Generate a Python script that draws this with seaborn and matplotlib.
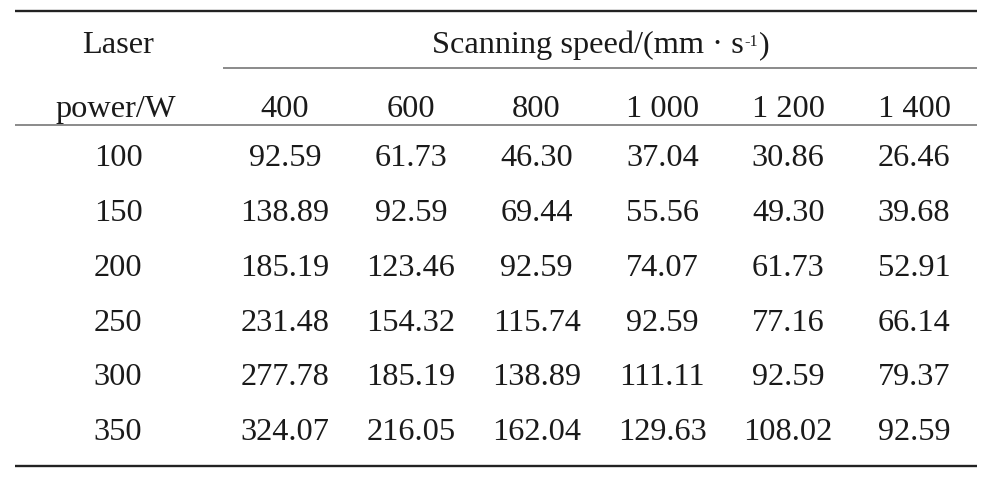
import seaborn as sns
import numpy as np
import matplotlib.pyplot as plt
import pandas as pd
from matplotlib.colors import ListedColormap

# table data: linear energy density, rows = laser power, cols = scanning speed
powers = [100, 150, 200, 250, 300, 350]
speeds = ["400", "600", "800", "1 000", "1 200", "1 400"]
v400 = [92.59, 138.89, 185.19, 231.48, 277.78, 324.07]
v600 = [61.73, 92.59, 123.46, 154.32, 185.19, 216.05]
v800 = [46.30, 69.44, 92.59, 115.74, 138.89, 162.04]
v1000 = [37.04, 55.56, 74.07, 92.59, 111.11, 129.63]
v1200 = [30.86, 49.30, 61.73, 77.16, 92.59, 108.02]
v1400 = [26.46, 39.68, 52.91, 66.14, 79.37, 92.59]

df = pd.DataFrame({s: v for s, v in zip(speeds, [v400, v600, v800, v1000, v1200, v1400])},
                  index=powers)

sns.set_theme(style="white")
plt.rcParams['font.family'] = ['Liberation Serif', 'DejaVu Serif']

W, H = 994, 485
fs = 23.3
tc = "#1a1a1a"
dy = 0.05  # nudge text down a bit so digits sit centred
fig = plt.figure(figsize=(W / 100, H / 100), dpi=100)

# rule lines in pixel coords
bg = fig.add_axes([0, 0, 1, 1])
bg.set_xlim(0, W)
bg.set_ylim(H, 0)
bg.axis("off")
bg.hlines([12, 467], 15, 977, color="#222222", lw=1.7)
bg.hlines(69, 223, 977, color="#777777", lw=1.2)
bg.hlines(126, 15, 977, color="#777777", lw=1.2)

# body of the table
ax = fig.add_axes([222 / W, 1 - 457.4 / H, 755 / W, 328.8 / H])
sns.heatmap(df, ax=ax, cmap=ListedColormap(["white"]), cbar=False,
            annot=True, fmt=".2f", xticklabels=False, yticklabels=False,
            annot_kws={"size": fs, "color": tc})
ax.set_xlabel("")
ax.set_ylabel("")
for t in ax.texts:
    x, y = t.get_position()
    t.set_position((x, y + dy))

xl = -0.826  # left column position in heatmap units
for i, p in enumerate(powers):
    ax.text(xl, i + 0.5 + dy, str(p), ha="center", va="center", fontsize=fs, color=tc)
for j, s in enumerate(speeds):
    ax.text(j + 0.5, -0.394 + dy, s, ha="center", va="center", fontsize=fs, color=tc)
ax.text(xl, -1.562 + dy, "Laser", ha="center", va="center", fontsize=fs, color=tc)
ax.text(xl - 0.015, -0.394 + dy, "power/W", ha="center", va="center", fontsize=fs, color=tc)

# "Scanning speed/(mm·s^-1)" built from pieces so the superscript stays small
t1 = ax.text(1.672, -1.562 + dy, "Scanning speed/(mm \u00b7 s", ha="left", va="center",
             fontsize=fs, color=tc, clip_on=False)
sup = ax.annotate("-1", xy=(1, 1), xycoords=t1, xytext=(0.5, -2), textcoords="offset points",
                  ha="left", va="top", fontsize=fs * 0.5, color=tc)
ax.annotate(")", xy=(1, 0), xycoords=(sup, t1), xytext=(0.3, 0), textcoords="offset points",
            ha="left", va="bottom", fontsize=fs, color=tc)

fig.savefig("out.png", dpi=100)
